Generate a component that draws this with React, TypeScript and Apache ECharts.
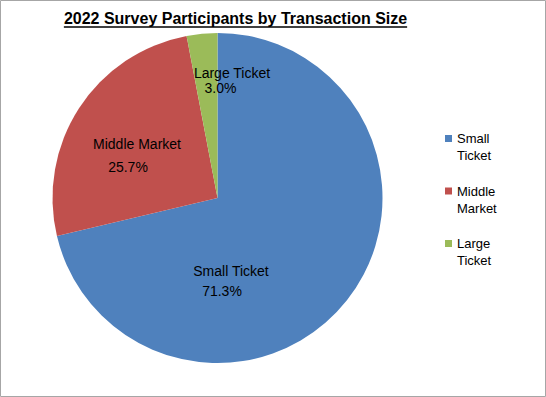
import React, { useEffect, useRef } from "react";
import * as echarts from "echarts";

const titleText = "2022 Survey Participants by Transaction Size";
const categories = ["Small Ticket", "Middle Market", "Large Ticket"];
const values = [71.3, 25.7, 3.0];
const legendLabels = ["Small\nTicket", "Middle\nMarket", "Large\nTicket"];
const colors = ["#4F81BD", "#C0504D", "#9BBB59"];

// label placement (centre of label block) and per-label line settings
const labelPos: [number, number][] = [
  [231, 281],
  [137, 155],
  [232, 80],
];
const labelLineHeight = [20, 23, 15];
const labelSecondPad = [18, 18, 23];

const FONT = "'Liberation Sans', Arial, sans-serif";

export default function App() {
  const ref = useRef<HTMLDivElement>(null);
  useEffect(() => {
    document.body.style.margin = "0";
    if (!ref.current) return;
    const chart = echarts.init(ref.current, null, { renderer: "svg" });

    const titleFont = `bold 16px ${FONT}`;
    const cv = document.createElement("canvas").getContext("2d")!;
    cv.font = titleFont;
    const tw = cv.measureText(titleText).width;
    const tcx = 235.5;

    chart.setOption({
      animation: false,
      backgroundColor: "#ffffff",
      color: colors,
      graphic: [
        {
          type: "rect",
          shape: { x: 0.5, y: 0.5, width: 545, height: 396 },
          style: { fill: "none", stroke: "#a6a6a6", lineWidth: 1 },
          silent: true,
        },
        {
          type: "text",
          x: tcx,
          y: 18.5,
          style: {
            text: titleText,
            font: titleFont,
            fill: "#000000",
            align: "center",
            verticalAlign: "middle",
          },
        },
        {
          type: "line",
          shape: { x1: tcx - tw / 2, y1: 27, x2: tcx + tw / 2, y2: 27 },
          style: { stroke: "#000000", lineWidth: 1.4 },
        },
      ],
      legend: {
        orient: "vertical",
        left: 440,
        top: 108,
        itemWidth: 7,
        itemHeight: 7,
        itemGap: 1.5,
        icon: "rect",
        data: categories,
        formatter: (name: string) => "\u00a0\n" + legendLabels[categories.indexOf(name)],
        textStyle: {
          fontFamily: FONT,
          fontSize: 13,
          lineHeight: 17,
          color: "#000000",
        },
      },
      series: [
        {
          type: "pie",
          center: [217.5, 198],
          radius: 165,
          startAngle: 90,
          clockwise: true,
          avoidLabelOverlap: false,
          data: categories.map((c, i) => ({
            name: c,
            value: values[i],
            label: {
              lineHeight: labelLineHeight[i],
              rich: {
                a: { fontFamily: FONT, fontSize: 14, color: "#000", lineHeight: labelLineHeight[i] },
                b: {
                  fontFamily: FONT,
                  fontSize: 14,
                  color: "#000",
                  lineHeight: labelLineHeight[i],
                  padding: [0, labelSecondPad[i], 0, 0],
                },
              },
            },
          })),
          itemStyle: { borderWidth: 0 },
          label: {
            show: true,
            position: "inside",
            formatter: (p: any) => `{a|${p.name}}\n{b|${values[p.dataIndex].toFixed(1)}%}`,
            align: "center",
          },
          labelLine: { show: false },
          labelLayout: (p: any) => ({
            x: labelPos[p.dataIndex][0],
            y: labelPos[p.dataIndex][1],
            align: "center",
            verticalAlign: "middle",
          }),
          emphasis: { disabled: true },
        },
      ],
    });
    return () => chart.dispose();
  }, []);
  return <div ref={ref} style={{ width: 546, height: 397 }} />;
}
